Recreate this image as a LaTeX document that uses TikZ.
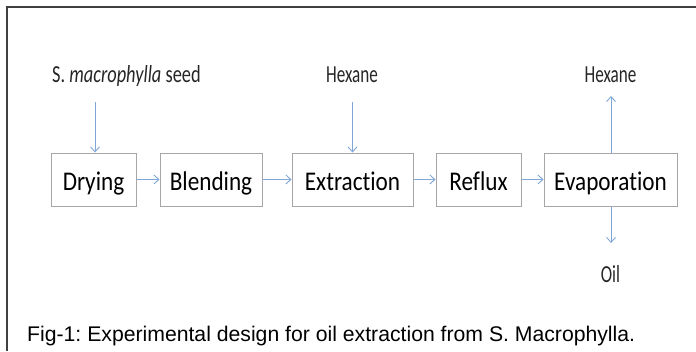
\documentclass[tikz,border=0pt]{standalone}
\usepackage{fontspec}
\setmainfont{Carlito}
\newfontfamily\boxfont[FakeStretch=0.86,Ligatures=NoCommon]{Carlito}
\newfontfamily\labfont[FakeStretch=0.70,Ligatures=NoCommon]{Carlito}
\newfontfamily\seedfont[FakeStretch=0.75,Ligatures=NoCommon]{Carlito}
\newfontfamily\capfont{Liberation Sans}
\usetikzlibrary{arrows.meta}
\definecolor{arrowblue}{HTML}{7FA6D9}
\definecolor{boxgray}{HTML}{A6A6A6}
\definecolor{framegray}{HTML}{404040}
\tikzset{
  stepbox/.style={draw=boxgray, line width=1pt, minimum height=53pt, inner sep=0pt,
    text height=25pt, text depth=4pt,
    font=\boxfont\fontsize{27}{30}\selectfont, text=black},
  flow/.style={draw=arrowblue, line width=1pt, -{Straight Barb[length=5pt,width=9pt,line width=0.9pt]}},
  lab/.style={inner sep=0pt, anchor=base, font=\labfont\fontsize{24.5}{28}\selectfont, text=black!85},
}
\frenchspacing
\begin{document}
\begin{tikzpicture}[x=1pt,y=-1pt]
\useasboundingbox (0,0) rectangle (696,351);
% frame
\coordinate (ftl) at (7,7);
\coordinate (ftr) at (696,7);
\coordinate (fbl) at (7,351);
\draw[framegray, line width=2pt] (fbl) -- (ftl) -- (ftr);
% boxes
\node[stepbox, minimum width=85pt] (dry) at (93.5,179.5) {Drying};
\node[stepbox, minimum width=102pt] (blend) at (211,179.5) {Blending};
\node[stepbox, minimum width=121pt] (ext) at (352.5,179.5) {Extraction};
\node[stepbox, minimum width=85pt] (ref) at (478.5,179.5) {Reflux};
\node[stepbox, minimum width=133pt] (evap) at (610.5,179.5) {Evaporation};
% labels
\node[lab, anchor=base west, font=\seedfont\fontsize{24.5}{28}\selectfont] (seed) at (52,82.5) {S. \textit{macrophylla} seed};
\node[lab] (hex1) at (352,82.5) {Hexane};
\node[lab] (hex2) at (610.5,82.5) {Hexane};
\node[lab] (oil) at (610.5,282.5) {Oil};
% connector ends
\coordinate (seedend) at (95,102);
\coordinate (hexend) at (352.5,102);
\coordinate (hexup) at (611,96);
\coordinate (oildown) at (611,243);
% arrows
\draw[flow] (dry) -- (blend);
\draw[flow] (blend) -- (ext);
\draw[flow] (ext) -- (ref);
\draw[flow] (ref) -- (evap);
\draw[flow] (seedend) -- (seedend |- dry.north);
\draw[flow] (hexend) -- (ext.north);
\draw[flow] (evap.north -| hexup) -- (hexup);
\draw[flow] (evap.south -| oildown) -- (oildown);
% caption
\node[anchor=base west, inner sep=0pt, font=\capfont\fontsize{21.2}{24}\selectfont] (cap) at (27,341.5) {Fig-1: Experimental design for oil extraction from S. Macrophylla.};
\end{tikzpicture}
\end{document}
